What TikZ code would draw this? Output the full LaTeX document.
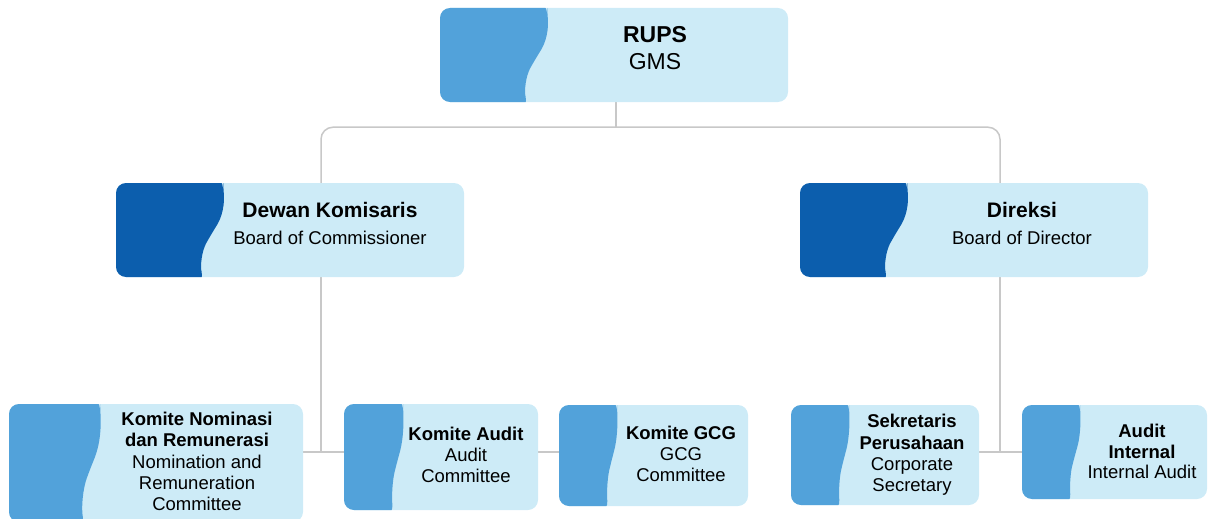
\documentclass[tikz,border=0pt]{standalone}
\usepackage{fontspec}
\setmainfont{Liberation Sans}
\usetikzlibrary{backgrounds,calc}

\definecolor{boxlight}{HTML}{CDEBF7}
\definecolor{tabmid}{HTML}{52A2DA}
\definecolor{tabdark}{HTML}{0C5EAD}
\definecolor{linegray}{HTML}{C8C8C8}

\tikzset{
  unit/.style={rectangle, rounded corners=10pt, fill=boxlight, inner sep=0pt},
  % coloured tab on the left of a box: colour, top width, sway, height
  tab/.style n args={4}{path picture={
    \coordinate (o) at (path picture bounding box.north west);
    \fill[#1] ($(o)+(-5,-5)$) -- ($(o)+(#2,-5)$) -- ($(o)+(#2,0)$)
      .. controls ($(o)+(#2+0.1*#3,0.3*#4)$) and ($(o)+(#2-0.2*#3,0.42*#4)$) .. ($(o)+(#2-0.55*#3,0.55*#4)$)
      .. controls ($(o)+(#2-0.95*#3,0.72*#4)$) and ($(o)+(#2-1.05*#3,0.88*#4)$) .. ($(o)+(#2-0.85*#3,#4+5)$)
      -- ($(o)+(-5,#4+5)$) -- cycle;}},
  toplabel/.style={align=center, inner sep=0pt, text depth=0pt, anchor=south,
    font=\fontsize{18.5}{27}\selectfont},
  sublabel/.style={align=center, inner sep=0pt, text depth=0pt, anchor=south,
    font=\fontsize{18.5}{21.3}\selectfont},
  link/.style={draw=linegray, line width=1.5pt}
}

\begin{document}
\begin{tikzpicture}[x=1pt, y=-1pt]
\useasboundingbox (0,0) rectangle (1208,519);

% boxes
\node[unit, minimum width=348, minimum height=94, tab={tabmid}{107}{22}{94}] (rups) at (614,55) {};
\node[unit, minimum width=348, minimum height=94, tab={tabdark}{107}{22}{94}] (dewan) at (290,230) {};
\node[unit, minimum width=348, minimum height=94, tab={tabdark}{107}{22}{94}] (direksi) at (974,230) {};
\node[unit, minimum width=294, minimum height=118, tab={tabmid}{91}{18}{118}] (nominasi) at (156,463) {};
\node[unit, minimum width=194, minimum height=106, tab={tabmid}{59}{11}{106}] (audit) at (441,457) {};
\node[unit, minimum width=189, minimum height=101, tab={tabmid}{58}{10}{101}] (gcg) at (653.5,455.5) {};
\node[unit, minimum width=188, minimum height=100, tab={tabmid}{58}{10}{100}] (sekretaris) at (885,455) {};
\node[unit, minimum width=185, minimum height=94, tab={tabmid}{58}{10}{94}] (internal) at (1114.5,452) {};

% texts
\node[toplabel, font=\fontsize{23}{27}\selectfont] (rupstext) at (655,70) {\textbf{RUPS}\\GMS};
\node[toplabel] (dewantext) at (330,245) {{\fontsize{21}{27}\selectfont\bfseries Dewan Komisaris}\\Board of Commissioner};
\node[toplabel] (direksitext) at (1022,245) {{\fontsize{21}{27}\selectfont\bfseries Direksi}\\Board of Director};
\node[sublabel] (nominasitext) at (197,511) {\textbf{Komite Nominasi}\\\textbf{dan Remunerasi}\\Nomination and\\Remuneration\\Committee};
\node[sublabel] (audittext) at (466,483) {\textbf{Komite Audit}\\Audit\\Committee};
\node[sublabel] (gcgtext) at (681,482) {\textbf{Komite GCG}\\GCG\\Committee};
\node[sublabel] (sekretaristext) at (912,492) {\textbf{Sekretaris}\\\textbf{Perusahaan}\\Corporate\\Secretary};
\node[sublabel, font=\fontsize{18.5}{20.5}\selectfont] (internaltext) at (1142,479) {\textbf{Audit}\\\textbf{Internal}\\Internal Audit};

% connectors
\begin{pgfonlayer}{background}
\draw[link] ([xshift=2]rups.south) -- ++(0,25) coordinate (split);
\draw[link, rounded corners=12pt] ([xshift=31]dewan.north) |- (split) -| ([xshift=26]direksi.north);
\draw[link] ([xshift=31]dewan.south) -- ++(0,175) coordinate (kom);
\draw[link] (nominasi.east |- kom) -- (gcg.west |- kom);
\draw[link] ([xshift=26]direksi.south) -- ++(0,175) coordinate (dir);
\draw[link] (sekretaris.east |- dir) -- (internal.west |- dir);
\end{pgfonlayer}
\end{tikzpicture}
\end{document}
